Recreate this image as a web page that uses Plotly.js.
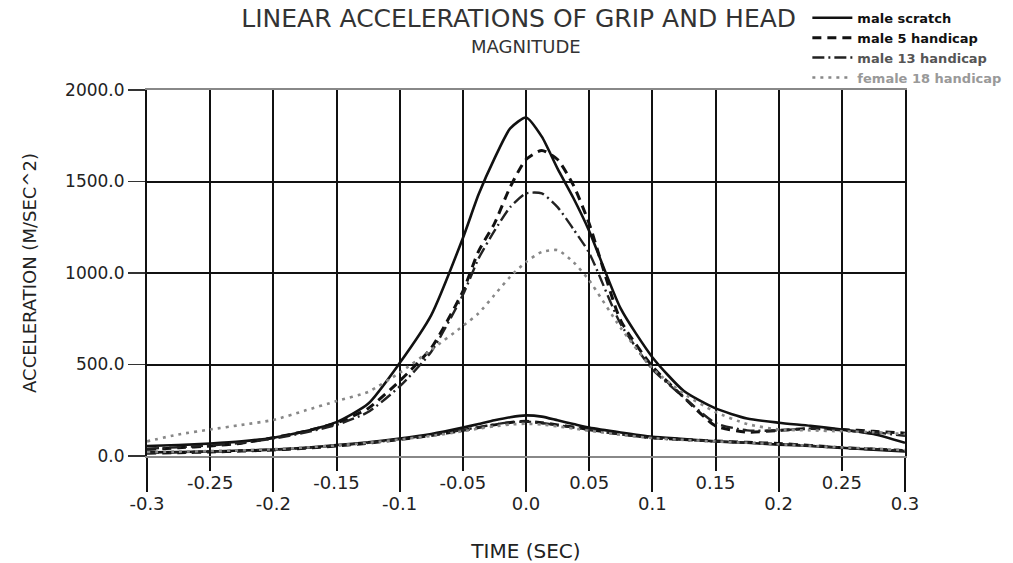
<!DOCTYPE html>
<html><head><meta charset="utf-8">
<script src="https://cdn.plot.ly/plotly-3.0.1.min.js"></script>
<style>html,body{margin:0;padding:0;background:#fff}#chart{width:1013px;height:563px}</style>
</head><body><div id="chart"></div>
<script>
// time (s)
const time = [-0.3,-0.275,-0.25,-0.225,-0.2,-0.175,-0.15,-0.125,-0.1,-0.075,-0.05,-0.0375,-0.025,-0.0125,0,0.0125,0.025,0.0375,0.05,0.075,0.1,0.125,0.15,0.175,0.2,0.225,0.25,0.275,0.3];

// upper curves (grip) and lower curves (head), m/s^2
const scratchHigh = [55,60,68,80,100,135,185,285,508,770,1190,1430,1625,1790,1850,1745,1570,1410,1230,805,540,355,260,205,182,165,145,120,72];
const scratchLow  = [20,22,25,30,35,45,60,75,95,120,155,175,195,212,222,215,195,175,155,128,105,93,80,72,62,55,45,35,25];

const hcp5High = [35,45,55,70,100,135,180,260,410,590,900,1120,1270,1470,1620,1670,1620,1480,1270,740,490,320,165,130,140,150,145,135,125];
const hcp5Low  = [15,18,22,27,33,42,55,70,90,112,140,155,170,183,190,182,170,158,145,120,100,90,82,75,68,58,45,38,30];

const hcp13High = [40,48,58,72,95,128,170,240,380,570,880,1080,1230,1360,1435,1435,1360,1240,1110,720,475,320,180,140,140,150,140,130,110];
const hcp13Low  = [18,20,24,29,35,44,57,72,92,115,142,158,172,184,188,180,168,156,142,118,98,88,80,73,66,56,46,38,28];

const fem18High = [80,118,145,170,197,248,300,350,455,580,710,780,880,980,1060,1115,1125,1060,960,700,480,340,240,175,145,140,135,130,120];
const fem18Low  = [22,24,27,31,37,46,58,72,90,110,135,150,162,172,176,172,162,150,138,116,98,88,80,72,64,56,47,40,32];

const seriesNames = ['male scratch','male 5 handicap','male 13 handicap','female 18 handicap'];
const legendColors = ['#111','#111','#555','#999'];

const xLongTicks = [-0.3,-0.2,-0.1,0,0.1,0.2,0.3];
const xLongLabels = ['-0.3','-0.2','-0.1','0.0','0.1','0.2','0.3'];
const xShortTicks = [-0.25,-0.15,-0.05,0.05,0.15,0.25];
const xShortLabels = ['-0.25','-0.15','-0.05','0.05','0.15','0.25'];
const yTicks = [0,500,1000,1500,2000];
const yLabels = ['0.0','500.0','1000.0','1500.0','2000.0'];

const styles = [
  {color:'#111', width:2.6},
  {color:'#111', width:3, dash:'9px,6px'},
  {color:'#222', width:2.4, dash:'12px,4px,2px,4px'},
  {color:'#888', width:2.6, dash:'3px,5px'}
];
const highs = [scratchHigh,hcp5High,hcp13High,fem18High];
const lows = [scratchLow,hcp5Low,hcp13Low,fem18Low];

const traces = [];
for (let i = 0; i < 4; i++) {
  traces.push({x: time, y: highs[i], type:'scatter', mode:'lines', line: Object.assign({shape:'spline', smoothing:0.6}, styles[i]),
    name: '<span style="color:' + legendColors[i] + '">' + seriesNames[i] + '</span>', legendgroup: 'g'+i, showlegend: true, hoverinfo:'skip'});
  traces.push({x: time, y: lows[i], type:'scatter', mode:'lines', line: Object.assign({shape:'spline', smoothing:0.6}, styles[i]),
    name: seriesNames[i], legendgroup: 'g'+i, showlegend: false, hoverinfo:'skip'});
}
traces.push({x: [], y: [], xaxis:'x2', yaxis:'y', type:'scatter', mode:'lines', showlegend:false, hoverinfo:'skip'});

const layout = {
  width: 1013, height: 563,
  margin: {l:147, r:108, t:90, b:107, autoexpand:false},
  paper_bgcolor:'#ffffff', plot_bgcolor:'#ffffff',
  font: {family:'DejaVu Sans, sans-serif', color:'#222', size:15},
  title: {text:'LINEAR ACCELERATIONS OF GRIP AND HEAD', font:{size:25, color:'#333'},
    xref:'container', x: 0.512, xanchor:'center', yref:'container', y: 0.967, yanchor:'middle'},
  annotations: [{text:'MAGNITUDE', xref:'paper', yref:'paper', x:0.5, y:1.1175, xanchor:'center', yanchor:'middle',
    showarrow:false, font:{size:18, color:'#333'}}],
  showlegend: true,
  legend: {xref:'container', yref:'container', x: 0.797, y: 0.995, xanchor:'left', yanchor:'top', bgcolor:'rgba(0,0,0,0)',
    font:{size:13, weight:'bold', color:'#111'}, itemwidth: 40, tracegroupgap: 0},
  xaxis: {range:[-0.3,0.3], tickmode:'array', tickvals: xLongTicks, ticktext: xLongLabels,
    ticks:'outside', ticklen:34, tickwidth:2, tickcolor:'#111', ticklabelstandoff:-4,
    showgrid:true, gridcolor:'#111', gridwidth:2, zeroline:false,
    showline:true, mirror:true, linecolor:'#888', linewidth:2,
    tickfont:{size:18, color:'#222'},
    title:{text:'TIME (SEC)', font:{size:20, color:'#222'}, standoff: 32}},
  xaxis2: {overlaying:'x', anchor:'y', side:'bottom', range:[-0.3,0.3], tickmode:'array',
    tickvals: xShortTicks, ticktext: xShortLabels,
    ticks:'outside', ticklen:14, tickwidth:2, tickcolor:'#111', ticklabelstandoff:-4,
    showgrid:true, gridcolor:'#111', gridwidth:2, zeroline:false, showline:false,
    tickfont:{size:18, color:'#222'}},
  yaxis: {range:[0,2000], tickmode:'array', tickvals: yTicks, ticktext: yLabels,
    ticks:'outside', ticklen:17, tickwidth:1.5, tickcolor:'#333',
    showgrid:true, gridcolor:'#111', gridwidth:2, zeroline:false,
    showline:true, mirror:true, linecolor:'#111', linewidth:2,
    tickfont:{size:17, color:'#222'},
    title:{text:'ACCELERATION (M/SEC^2)', font:{size:18, color:'#222'}, standoff: 24}}
};

Plotly.newPlot('chart', traces, layout, {displayModeBar:false, staticPlot:true});
</script>
</body></html>
